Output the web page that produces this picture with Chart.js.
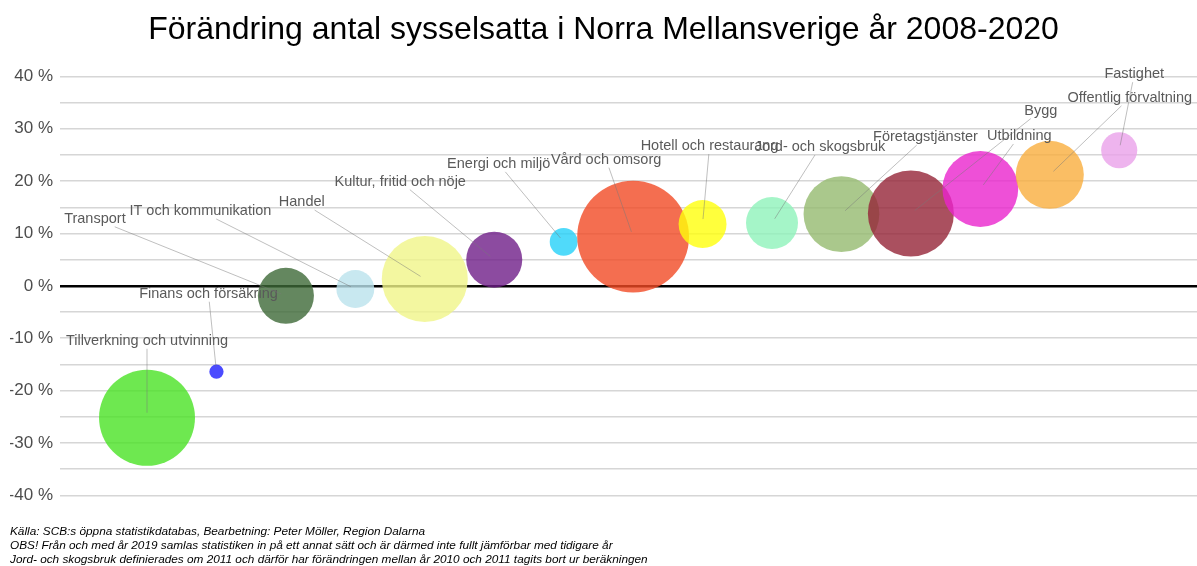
<!DOCTYPE html>
<html lang="sv">
<head>
<meta charset="utf-8">
<title>Förändring antal sysselsatta</title>
<script src="https://cdn.jsdelivr.net/npm/chart.js@4"></script>
<style>
  html, body { margin: 0; padding: 0; background: #fff; }
  #wrap { width: 1197px; height: 566px; }
</style>
</head>
<body>
<div id="wrap"><canvas id="chart"></canvas></div>
<script>
/* --------------------------
   DATA
--------------------------- */
// Branscher, sorterade efter förändring
const branscher = [
    'Tillverkning och utvinning', 'Finans och försäkring', 'Transport',
    'IT och kommunikation', 'Handel', 'Kultur, fritid och nöje',
    'Energi och miljö', 'Vård och omsorg', 'Hotell och restaurang',
    'Jord- och skogsbruk', 'Företagstjänster', 'Bygg',
    'Utbildning', 'Offentlig förvaltning', 'Fastighet'
];
// Förändring 2008-2020, procent
const forandring = [-25.2, -16.4, -1.9, -0.6, 1.3, 5.0, 8.4, 9.4, 11.8, 12.0, 13.7, 13.8, 18.5, 21.2, 25.9];
// Antal sysselsatta 2020, tusental (bubblans yta)
const antal = [54.5, 1.2, 18.6, 8.5, 43.8, 18.6, 4.6, 74.0, 13.6, 16.0, 34.0, 43.8, 34.0, 27.4, 7.7];
const farger = [
    'rgba(74,226,36,0.8)', 'rgba(30,30,255,0.8)', 'rgba(61,105,55,0.8)',
    'rgba(186,226,236,0.8)', 'rgba(240,245,136,0.8)', 'rgba(111,30,136,0.8)',
    'rgba(36,209,249,0.8)', 'rgba(241,74,36,0.8)', 'rgba(255,255,11,0.8)',
    'rgba(142,242,186,0.8)', 'rgba(149,186,111,0.8)', 'rgba(149,36,55,0.8)',
    'rgba(234,36,205,0.8)', 'rgba(249,174,61,0.8)', 'rgba(234,161,234,0.8)'
];
const yTicks = [-40, -30, -20, -10, 0, 10, 20, 30, 40];

// Etiketternas förskjutning från bubblan (px)
const etikettFlytt = [
    [0, -77], [-8, -78], [-191, -77], [-155, -78], [-123, -77],
    [-94, -78], [-65, -78], [-27, -77], [7, -78], [48, -76],
    [84, -77], [130, -103], [39, -53], [80, -77], [15, -76]
];

const punkter = branscher.map((b, i) => ({ x: i + 1, y: forandring[i], r: 6.5 * Math.sqrt(antal[i]) }));

/* --------------------------
   ETIKETTER MED LINJER
--------------------------- */
const etiketter = {
    id: 'etiketter',
    afterDatasetsDraw(chart) {
        const ctx = chart.ctx;
        const meta = chart.getDatasetMeta(0);
        ctx.save();
        ctx.font = '14.5px "Liberation Sans", Arial, sans-serif';
        ctx.textAlign = 'center';
        ctx.textBaseline = 'middle';
        meta.data.forEach((el, i) => {
            const px = el.x, py = el.y;
            const lx = px + etikettFlytt[i][0], ly = py + etikettFlytt[i][1];
            const hw = ctx.measureText(branscher[i]).width / 2 + 2, hh = 8;
            // linje från etikettens kant till punkten
            const dx = px - lx, dy = py - ly;
            const t = Math.min(Math.abs(hw / (dx || 1e-6)), Math.abs(hh / (dy || 1e-6)));
            const sx = lx + dx * t, sy = ly + dy * t;
            const len = Math.hypot(dx, dy);
            const ex = px - dx / len * 5, ey = py - dy / len * 5;
            ctx.strokeStyle = 'rgba(120,120,120,0.6)';
            ctx.lineWidth = 0.8;
            ctx.beginPath();
            ctx.moveTo(sx, sy);
            ctx.lineTo(ex, ey);
            ctx.stroke();
            ctx.fillStyle = '#5a5a5a';
            ctx.fillText(branscher[i], lx, ly);
        });
        ctx.restore();
    }
};

/* --------------------------
   DIAGRAM
--------------------------- */
let ctx = document.getElementById('chart').getContext('2d');

let chart = new Chart(ctx, {
    type: 'bubble',
    data: {
        datasets: [{
            label: 'Förändring',
            data: punkter,
            backgroundColor: farger,
            borderWidth: 0,
            hoverBorderWidth: 0,
            clip: false
        }]
    },
    options: {
        responsive: true,
        maintainAspectRatio: false,
        animation: false,
        layout: { autoPadding: false, padding: { left: 10, right: 0, top: 0, bottom: 0 } },
        scales: {
            x: {
                type: 'linear',
                min: -0.253,
                max: 16.12,
                display: false
            },
            y: {
                min: -40,
                max: 40,
                afterBuildTicks(scale) {
                    const t = [];
                    for (let v = -40; v <= 40; v += 5) t.push({ value: v });
                    scale.ticks = t;
                },
                afterFit(scale) { scale.width = 50; },
                border: { display: false },
                grid: {
                    drawTicks: false,
                    color: c => c.tick && c.tick.value === 0 ? '#000000' : '#d6d6d6',
                    lineWidth: c => c.tick && c.tick.value === 0 ? 2.5 : 1.5
                },
                ticks: {
                    padding: 7,
                    color: '#4d4d4d',
                    font: { family: '"Liberation Sans", Arial, sans-serif', size: 17 },
                    callback: v => yTicks.includes(v) ? v + ' %' : ''
                }
            }
        },
        plugins: {
            legend: { display: false },
            tooltip: { enabled: false },
            title: {
                display: true,
                text: 'Förändring antal sysselsatta i Norra Mellansverige år 2008-2020',
                color: '#000',
                font: { family: '"Liberation Sans", Arial, sans-serif', size: 32, weight: 'normal' },
                padding: { top: 11, bottom: 27 }
            },
            subtitle: {
                display: true,
                position: 'bottom',
                align: 'start',
                color: '#000',
                font: { family: '"Liberation Sans", Arial, sans-serif', size: 11.8, style: 'italic', lineHeight: 1.15 },
                padding: { top: 30, bottom: 0 },
                text: [
                    'Källa: SCB:s öppna statistikdatabas, Bearbetning: Peter Möller, Region Dalarna',
                    'OBS! Från och med år 2019 samlas statistiken in på ett annat sätt och är därmed inte fullt jämförbar med tidigare år',
                    'Jord- och skogsbruk definierades om 2011 och därför har förändringen mellan år 2010 och 2011 tagits bort ur beräkningen'
                ]
            }
        }
    },
    plugins: [etiketter]
});
</script>
</body>
</html>
